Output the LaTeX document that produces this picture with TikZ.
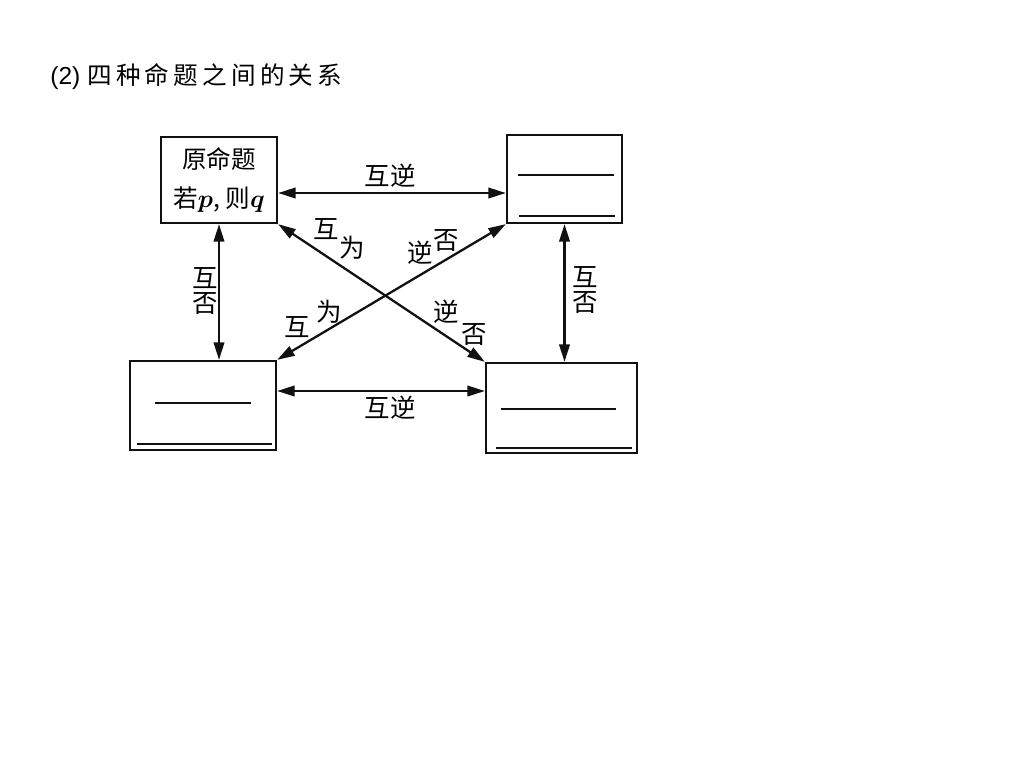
\documentclass[tikz,border=0pt]{standalone}
\usepackage{fontspec}
\usepackage{amsmath}
\setmainfont{Liberation Serif}
\newfontfamily\cjk{Noto Sans CJK SC}
\newfontfamily\cjktitle[LetterSpace=17]{Noto Sans CJK SC}
\newfontfamily\titlesans{Liberation Sans}
\usetikzlibrary{arrows.meta,calc}
\definecolor{inkblack}{HTML}{111111}
\tikzset{
  prop/.style={
    rectangle, draw=inkblack, line width=1.3pt, inner sep=0pt, align=center,
    font=\cjk\fontsize{14}{22.5}\selectfont
  },
  rel/.style={{Triangle[length=10pt,width=6pt]}-{Triangle[length=10pt,width=6pt]}, line width=1.3pt, draw=inkblack},
  tag/.style={font=\cjk\fontsize{14.5}{14.5}\selectfont, inner sep=0pt, align=center},
  blank/.style={line width=1.3pt, draw=inkblack},
  thinblank/.style={line width=0.7pt, draw=inkblack}
}

\begin{document}
\begin{tikzpicture}[x=0.02cm,y=-0.02cm]
\useasboundingbox (0,0) rectangle (1024,768);
\node[anchor=west, inner sep=0pt] (title) at (50,77)
  {\titlesans\fontsize{14}{14}\selectfont (2)\hspace{4pt}\cjktitle 四种命题之间的关系};
% the four propositions
\node[prop, minimum width=2.32cm, minimum height=1.72cm] (orig) at (219,180)
  {原命题\\若$\boldsymbol{p}$, 则$\boldsymbol{q}$};
\node[prop, minimum width=2.30cm, minimum height=1.76cm] (conv) at (564.5,179) {};
\node[prop, minimum width=2.92cm, minimum height=1.78cm] (inv) at (203,405.5) {};
\node[prop, minimum width=3.02cm, minimum height=1.80cm] (contra) at (561.5,408) {};
% blanks to fill in
\draw[blank] (518,175) -- (614,175);
\draw[blank] (519,216) -- (615,216);
\draw[blank] (155,403) -- (251,403);
\draw[thinblank] (137,444) -- (272,444);
\draw[thinblank] (501,409) -- (616,409);
\draw[blank] (496,448) -- (632,448);
% relations
\draw[rel] (orig.east |- 0,193) -- (conv.west |- 0,193);
\draw[rel] (inv.east |- 0,391) -- (contra.west |- 0,391);
\draw[rel] (orig.south) -- (orig.south |- inv.north);
\draw[rel] (conv.south) -- (conv.south |- contra.north);
\draw[rel] (orig.south east) -- (contra.north west);
\draw[rel] (inv.north east) -- (conv.south west);
\node[tag] (topinv) at (390,176) {互逆};
\node[tag] (botinv) at (390,408) {互逆};
\node[tag] (leftneg) at (205,291) {互\\否};
\node[tag] (rightneg) at (585,290) {互\\否};
\node[tag] (d1a) at (326,229) {互};
\node[tag] (d1b) at (352,248) {为};
\node[tag] (d1c) at (446,312) {逆};
\node[tag] (d1d) at (474,335) {否};
\node[tag] (d2a) at (420,253) {逆};
\node[tag] (d2b) at (446,241) {否};
\node[tag] (d2c) at (297,327) {互};
\node[tag] (d2d) at (329,312) {为};
\end{tikzpicture}
\end{document}
